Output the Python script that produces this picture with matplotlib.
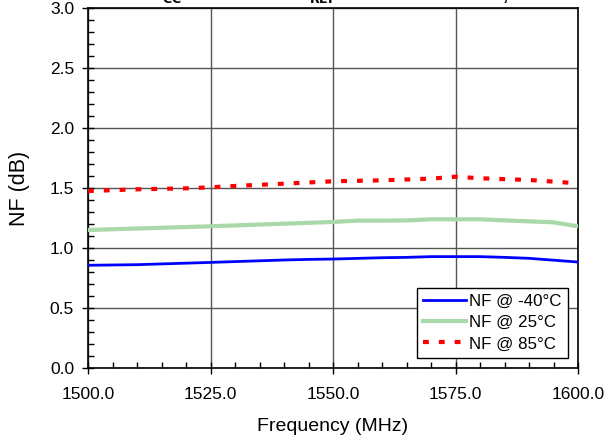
import matplotlib
matplotlib.use("Agg")
import matplotlib.pyplot as plt
from matplotlib.ticker import MultipleLocator, FormatStrFormatter

plt.rcParams["font.family"] = ["Liberation Sans", "DejaVu Sans"]
plt.rcParams["mathtext.default"] = "bf"

# ── Data ──────────────────────────────────────────────────────────────────────
freq_cold = [1500, 1510, 1525, 1540, 1545, 1550, 1560, 1565, 1570, 1575, 1580, 1585, 1590, 1600]
nf_cold   = [0.856, 0.861, 0.880, 0.900, 0.905, 0.908, 0.919, 0.922, 0.928, 0.928, 0.928, 0.922, 0.914, 0.883]

freq_room = [1500, 1525, 1550, 1555, 1560, 1565, 1570, 1575, 1580, 1590, 1595, 1600]
nf_room   = [1.150, 1.181, 1.217, 1.228, 1.228, 1.230, 1.239, 1.239, 1.239, 1.222, 1.214, 1.181]

freq_hot = [1500, 1510, 1520, 1525, 1530, 1540, 1550, 1560, 1570, 1575, 1580, 1590, 1600]
nf_hot   = [1.475, 1.489, 1.497, 1.506, 1.517, 1.536, 1.556, 1.564, 1.578, 1.594, 1.581, 1.567, 1.539]

labels = ["NF @ -40°C", "NF @ 25°C", "NF @ 85°C"]

# ── Plot ──────────────────────────────────────────────────────────────────────
W, H = 605, 438
fig = plt.figure(figsize=(W / 100, H / 100), dpi=100)
ax = fig.add_axes([88 / W, 70 / H, 490 / W, 360 / H])

ax.plot(freq_cold, nf_cold, color="#0000ff", lw=2.0, label=labels[0], zorder=3)
ax.plot(freq_room, nf_room, color="#a9d8a9", lw=3.0, label=labels[1], zorder=3)
ax.plot(freq_hot, nf_hot, color="#ff0000", lw=3.0, ls=(0, (1.4, 2.4)), label=labels[2], zorder=3)

ax.set_xlim(1500, 1600)
ax.set_ylim(0, 3.0)
ax.xaxis.set_major_locator(MultipleLocator(25))
ax.xaxis.set_minor_locator(MultipleLocator(5))
ax.yaxis.set_major_locator(MultipleLocator(0.5))
ax.yaxis.set_minor_locator(MultipleLocator(0.1))
ax.xaxis.set_major_formatter(FormatStrFormatter("%.1f"))
ax.yaxis.set_major_formatter(FormatStrFormatter("%.1f"))
ax.tick_params(which="major", direction="inout", length=8, width=1, labelsize=12.5)
ax.tick_params(axis="x", which="major", pad=10)
ax.tick_params(axis="y", which="major", pad=6)
ax.tick_params(which="minor", direction="in", length=4, width=1)
ax.grid(True, which="major", color="#555555", lw=1)
for s in ax.spines.values():
    s.set_linewidth(1.2)

ax.set_xlabel("Frequency (MHz)", fontsize=14, labelpad=11)
ax.set_ylabel("NF (dB)", fontsize=15.5, labelpad=14)

leg = ax.legend(loc="lower right", fontsize=12.2, frameon=True, fancybox=False,
                edgecolor="black", framealpha=1, borderpad=0.38, labelspacing=0.36,
                handlelength=2.5, handletextpad=0.2, borderaxespad=0.6)
leg.get_frame().set_linewidth(1)

# title sits above the visible canvas, only the subscripts peek in
fig.text(150 / W, 1.0, "V$_{CC}$ = 5.0 V", ha="left", va="baseline",
         fontsize=13, fontweight="bold")
fig.text(297 / W, 1.0, "V$_{REF}$ = 3.3 V", ha="left", va="baseline",
         fontsize=13, fontweight="bold")
fig.text(508 / W, 1.0, "All Modes,", ha="right", va="baseline",
         fontsize=13, fontweight="bold")

fig.savefig("out.png", dpi=100)
